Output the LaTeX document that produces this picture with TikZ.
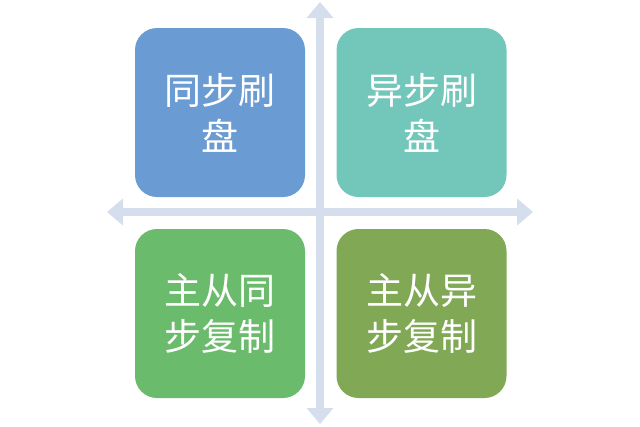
\documentclass[tikz,border=0pt]{standalone}
\usepackage{fontspec}
\newfontfamily\cjk{Noto Sans CJK SC}
\usetikzlibrary{arrows.meta}

\definecolor{axis}{HTML}{D5DEEC}
\definecolor{tlfill}{HTML}{6A9BD2}
\definecolor{trfill}{HTML}{73C6BA}
\definecolor{blfill}{HTML}{6BBB6C}
\definecolor{brfill}{HTML}{80A855}

\tikzset{
  quad/.style={rounded corners=22pt, minimum width=170pt, minimum height=169pt,
    text=white, align=center, inner sep=0pt,
    font=\cjk\fontsize{37}{46}\selectfont},
  axisline/.style={axis, line width=8pt,
    {Triangle[width=26pt,length=16pt]}-{Triangle[width=26pt,length=16pt]}}
}

\begin{document}
\begin{tikzpicture}[x=1pt, y=-1pt]

  \useasboundingbox (0,0) rectangle (640,426);

  \coordinate (top)    at (320,  2);
  \coordinate (bottom) at (320,424);
  \coordinate (left)   at (107,212);
  \coordinate (right)  at (533,212);

  \draw [axisline] (top)  -- (bottom);
  \draw [axisline] (left) -- (right);

  \node [quad, fill=tlfill] (syncflush)  at (220,112.5) {同步刷\\盘};
  \node [quad, fill=trfill] (asyncflush) at (421.5,112.5) {异步刷\\盘};
  \node [quad, fill=blfill] (syncrep)    at (220,313.5) {主从同\\步复制};
  \node [quad, fill=brfill] (asyncrep)   at (421.5,313.5) {主从异\\步复制};

\end{tikzpicture}
\end{document}
